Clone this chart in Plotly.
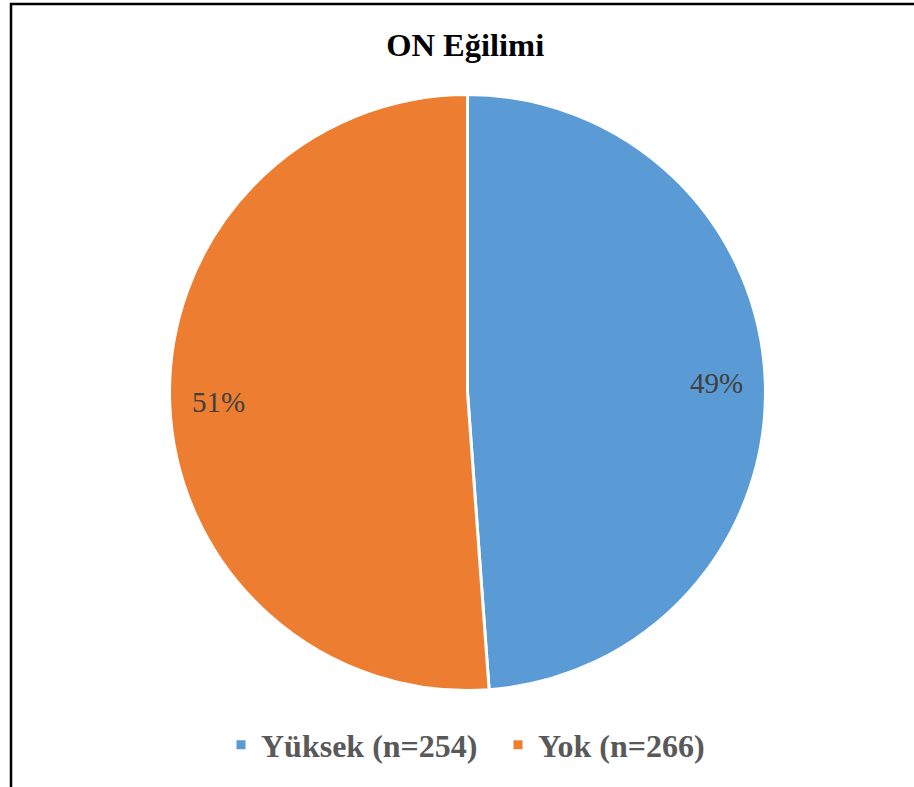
import math
import plotly.graph_objects as go

labels = ["Yüksek (n=254)", "Yok (n=266)"]
values = [254, 266]
colors = ["#5B9BD5", "#ED7D31"]
title_text = "ON Eğilimi"

W, H = 914, 787
cx, cy, r = 467.5, 392.5, 298
SERIF = "Times New Roman, Liberation Serif, DejaVu Serif, serif"

fig = go.Figure(go.Pie(
    labels=labels,
    values=values,
    sort=False,
    direction="clockwise",
    rotation=0,
    marker=dict(colors=colors, line=dict(color="white", width=3)),
    textinfo="none",
    domain=dict(x=[(cx - r) / W, (cx + r) / W], y=[1 - (cy + r) / H, 1 - (cy - r) / H]),
    hoverinfo="label+percent",
))

# percentage labels placed along each slice's mid angle (Excel style, near outer edge)
total = sum(values)
annotations = []
start = 0.0
for v in values:
    frac = v / total
    mid = (start + frac / 2) * 2 * math.pi
    start += frac
    px = cx + 0.837 * r * math.sin(mid)
    py = cy - 0.837 * r * math.cos(mid)
    annotations.append(dict(
        x=px / W, y=1 - py / H, xref="paper", yref="paper",
        text=f"{round(frac * 100)}%", showarrow=False,
        xanchor="center", yanchor="middle",
        font=dict(family=SERIF, size=29, color="#404040"),
    ))

fig.update_layout(
    width=W, height=H,
    margin=dict(l=0, r=0, t=0, b=0),
    paper_bgcolor="white",
    plot_bgcolor="white",
    title=dict(text="<b>" + title_text + "</b>", x=0.509, xanchor="center", y=1 - 45 / H, yanchor="middle",
               font=dict(family=SERIF, size=32.5, color="black")),
    showlegend=True,
    legend=dict(orientation="h", x=221 / W, xanchor="left", y=1 - 745 / H, yanchor="middle",
                font=dict(family=SERIF, size=32, color="#595959", weight="bold"),
                entrywidth=232, entrywidthmode="pixels",
                traceorder="normal"),
    annotations=annotations,
    shapes=[dict(type="rect", xref="paper", yref="paper", x0=11 / W, x1=1.05, y0=-0.05, y1=1 - 4 / H,
                 line=dict(color="black", width=2.5), fillcolor="rgba(0,0,0,0)", layer="below")],
)

fig.write_html("out.html", config={"displayModeBar": False},
               post_script="document.body.style.margin='0';document.body.style.overflow='hidden';")
